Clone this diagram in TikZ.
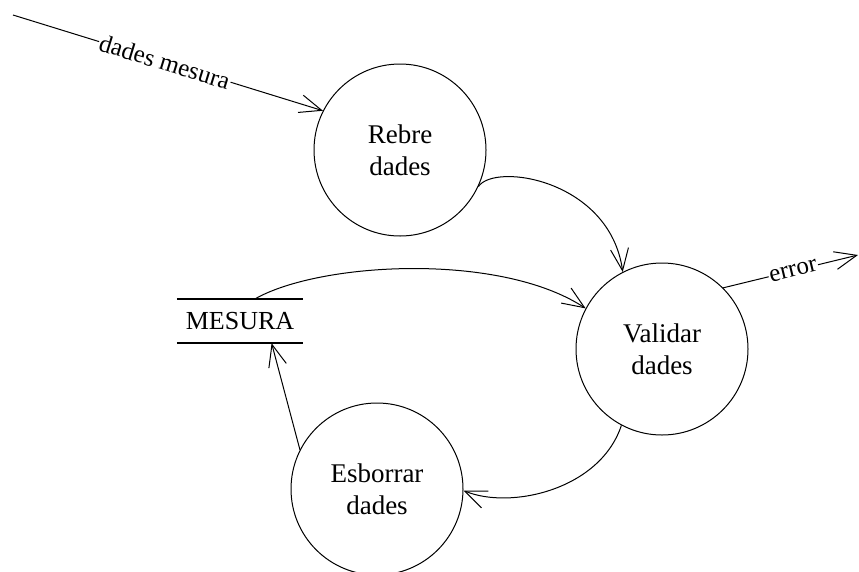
\documentclass[tikz,border=0pt]{standalone}
\usepackage{fontspec}
\setmainfont{Liberation Serif}
\usetikzlibrary{arrows.meta,calc}
\begin{document}
\begin{tikzpicture}[x=1pt,y=-1pt,
  process/.style={circle,draw,line width=1pt,minimum size=172pt,inner sep=0pt,
    align=center,font=\fontsize{27}{32}\selectfont},
  flow/.style={line width=1pt,-{Straight Barb[length=22pt,width=18pt]}},
  flowlabel/.style={sloped,fill=white,inner sep=1pt,font=\fontsize{25}{30}\selectfont},
  storeline/.style={line width=2.5pt}]
\useasboundingbox (0,0) rectangle (859,571);

% processes
\node[process] (rebre)    at (400,150) {Rebre\\dades};
\node[process] (validar)  at (662,349) {Validar\\dades};
\node[process] (esborrar) at (377,489) {Esborrar\\dades};

% data store
\node[inner sep=0pt,minimum width=126pt,minimum height=44pt,
      font=\fontsize{26}{30}\selectfont] (mesura) at (240,321) {MESURA};
\draw[storeline] (mesura.north west) -- (mesura.north east);
\draw[storeline] (mesura.south west) -- (mesura.south east);

% external flows
\coordinate (src)  at (13,15);
\coordinate (sink) at (858,255);

% data flows
\draw[flow] (src) -- node[flowlabel,pos=0.49] {dades mesura} (rebre.153);
\draw[flow] (rebre.-25) .. controls (495,162) and (610,180) .. (validar.117);
\draw[flow] ($(mesura.north west)!0.62!(mesura.north east)$)
  .. controls (320,262) and (500,252) .. (validar.152);
\draw[flow] (validar.45) -- node[flowlabel,pos=0.52] {error} (sink);
\draw[flow] (validar.-118) .. controls (600,490) and (510,510) .. (esborrar.-1);
\draw[flow] (esborrar.153) -- ($(mesura.south west)!0.75!(mesura.south east)$);
\end{tikzpicture}
\end{document}
